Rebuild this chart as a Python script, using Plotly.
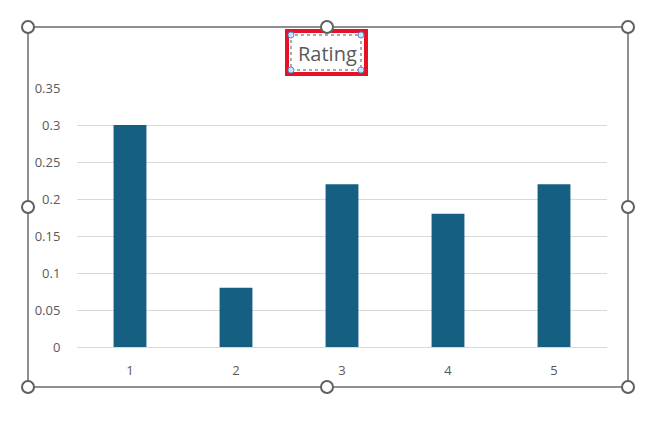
import plotly.graph_objects as go

categories = ["1", "2", "3", "4", "5"]
values = [0.30, 0.08, 0.22, 0.18, 0.22]
y_ticks = [0, 0.05, 0.1, 0.15, 0.2, 0.25, 0.3, 0.35]
y_labels = ["0", "0.05", "0.1", "0.15", "0.2", "0.25", "0.3", "0.35"]

# the page body adds an 8px offset, so work in figure pixels
OFF = 8
W, H = 672 - 2 * OFF, 435 - 2 * OFF
L, R, T, B = 77 - OFF, 607 - OFF, 88 - OFF, 347 - OFF  # plot area


def px(x):
    return (x - OFF - L) / (R - L)


def py(y):
    return (B - (y - OFF)) / (B - T)


fig = go.Figure()
fig.add_trace(go.Bar(x=categories, y=values, marker=dict(color="#156082", line=dict(width=0)),
                     width=0.31, hoverinfo="skip"))

shapes = []
# chart border
shapes.append(dict(type="rect", xref="paper", yref="paper", x0=px(28), x1=px(628), y0=py(387), y1=py(27),
                   line=dict(color="#6b6b6b", width=1.5), layer="below"))
# title selection: red box + dotted box
shapes.append(dict(type="rect", xref="paper", yref="paper", x0=px(287), x1=px(366), y0=py(74), y1=py(31),
                   line=dict(color="#e81123", width=4)))
shapes.append(dict(type="rect", xref="paper", yref="paper", x0=px(291), x1=px(361), y0=py(70), y1=py(35),
                   line=dict(color="#555555", width=1, dash="dot")))
for hx, hy in [(291, 35), (361, 35), (291, 70), (361, 70)]:
    shapes.append(dict(type="circle", xref="paper", yref="paper",
                       x0=px(hx - 3), x1=px(hx + 3), y0=py(hy + 3), y1=py(hy - 3),
                       line=dict(color="#4a90d9", width=1), fillcolor="#cfe6fa"))
# gray sizing handles
for hx, hy in [(28, 27), (327, 27), (628, 27), (28, 207), (628, 207), (28, 387), (327, 387), (628, 387)]:
    shapes.append(dict(type="circle", xref="paper", yref="paper",
                       x0=px(hx - 6), x1=px(hx + 6), y0=py(hy + 6), y1=py(hy - 6),
                       line=dict(color="#5f5f5f", width=2), fillcolor="white"))

fig.update_layout(
    width=W, height=H,
    margin=dict(l=L, r=W - R, t=T, b=H - B),
    paper_bgcolor="white", plot_bgcolor="white",
    font=dict(family="Open Sans", color="#595959", size=13),
    showlegend=False,
    bargap=0.69,
    shapes=shapes,
    annotations=[dict(text="Rating", xref="paper", yref="paper", x=px(327), y=py(53),
                      xanchor="center", yanchor="middle", showarrow=False,
                      font=dict(size=20, color="#595959", family="Open Sans"))],
    xaxis=dict(showgrid=False, showline=True, linecolor="#d9d9d9", linewidth=1,
               ticks="outside", ticklen=11, tickcolor="rgba(0,0,0,0)", tickfont=dict(size=13)),
    yaxis=dict(range=[0, 0.35], tickvals=y_ticks, ticktext=y_labels, showgrid=True,
               gridcolor="#d9d9d9", gridwidth=1, zeroline=False, showline=False,
               ticks="outside", ticklen=13, tickcolor="rgba(0,0,0,0)", tickfont=dict(size=13)),
)

fig.write_html("out.html")
